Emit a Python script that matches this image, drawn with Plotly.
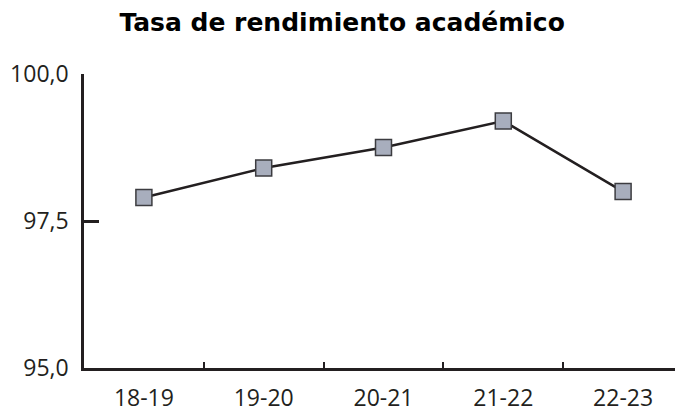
import plotly.graph_objects as go

cursos = ["18-19", "19-20", "20-21", "21-22", "22-23"]
tasa = [97.9, 98.4, 98.75, 99.2, 98.0]
y_ticks = [95.0, 97.5, 100.0]

fig = go.Figure()
fig.add_trace(go.Scatter(
    x=cursos, y=tasa,
    mode="lines+markers",
    line=dict(color="#231f20", width=2.5),
    marker=dict(symbol="square", size=16, color="#a8aebd",
                line=dict(color="#3c3c40", width=1.5)),
    showlegend=False,
))

# page body adds an 8px margin, so the figure is sized to fit inside it
fig.update_layout(
    width=675, height=405,
    margin=dict(l=76, r=0, t=66, b=43),
    paper_bgcolor="white", plot_bgcolor="white",
    separators=",.",
    font=dict(family="Open Sans", color="#231f20", size=23),
    title=dict(text="<b>Tasa de rendimiento académico</b>", x=0.495, xanchor="center",
               y=0.965, yanchor="middle",
               font=dict(family="DejaVu Sans", size=25, color="#000000")),
)
fig.update_xaxes(
    type="category", tickson="boundaries",
    showline=True, linecolor="#231f20", linewidth=2.5,
    ticks="inside", ticklen=6, tickwidth=2, tickcolor="#231f20",
    showgrid=False, zeroline=False, ticklabelstandoff=8,
    range=[-0.5, 4.5],
)
fig.update_yaxes(
    range=[95, 100], tickvals=y_ticks, tickformat=".1f",
    showline=True, linecolor="#231f20", linewidth=2.5,
    ticks="inside", ticklen=15, tickwidth=2.5, tickcolor="#231f20",
    showgrid=False, zeroline=False, ticklabelstandoff=8,
)

fig.write_html("out.html")
